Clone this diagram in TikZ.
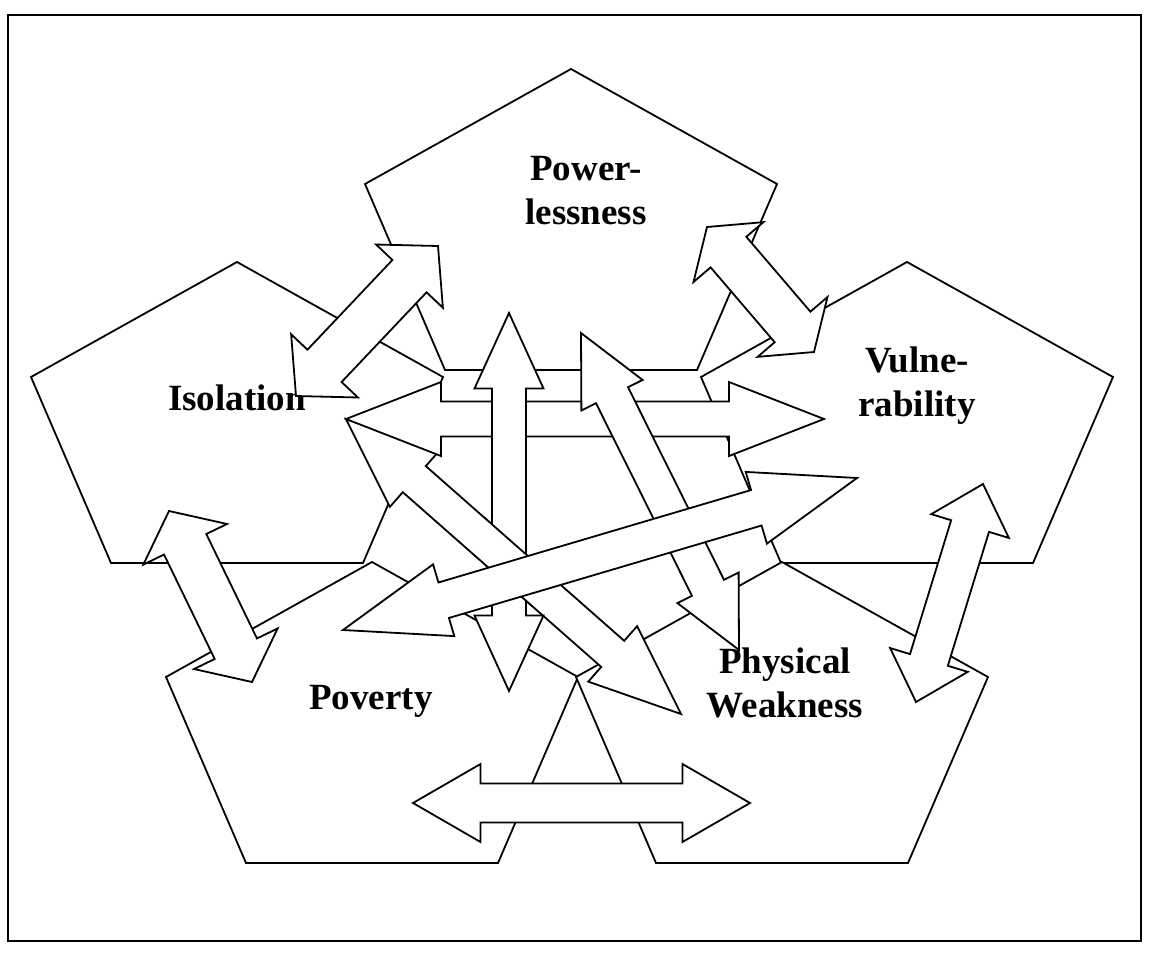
\documentclass[tikz,border=0pt]{standalone}
\usepackage{fontspec}
\setmainfont{Liberation Serif}
\usetikzlibrary{calc}

\newcommand{\pentagon}[1]{%
  \draw[pent] (#1) -- ++(206,115) -- ++(-80,186) -- ++(-252,0) -- ++(-80,-186) -- cycle;}
\newcommand{\dblarrow}[5]{%
  \coordinate (ha) at ($(#1)!#5!(#2)$);
  \coordinate (hb) at ($(#2)!#5!(#1)$);
  \draw[blk] (#1) -- ($(ha)!#4!90:(#2)$) -- ($(ha)!#3!90:(#2)$)
    -- ($(hb)!#3!-90:(#1)$) -- ($(hb)!#4!-90:(#1)$) -- (#2)
    -- ($(hb)!#4!90:(#1)$) -- ($(hb)!#3!90:(#1)$)
    -- ($(ha)!#3!-90:(#2)$) -- ($(ha)!#4!-90:(#2)$) -- cycle;}

\begin{document}
\begin{tikzpicture}[x=1pt, y=-1pt,
    pent/.style={draw, fill=white, line width=1.8pt, line join=miter},
    blk/.style={draw, fill=white, line width=1.8pt, line join=miter},
    lbl/.style={font=\bfseries\fontsize{37}{44}\selectfont, align=center, anchor=base, inner sep=0pt}]
    \useasboundingbox (0,0) rectangle (1149,956);
    \draw[line width=2.6pt] (8,15) rectangle (1141,941);

    \coordinate (powtop) at (571,69);
    \coordinate (isotop) at (237,262);
    \coordinate (vultop) at (907,262);
    \coordinate (povtop) at (372,562);
    \coordinate (phytop) at (782,562);
    \pentagon{powtop}
    \pentagon{isotop}
    \pentagon{vultop}
    \pentagon{povtop}
    \pentagon{phytop}

    \node[lbl] (pow) at (586,224) {Power-\\lessness};
    \node[lbl] (iso) at (237,410) {Isolation};
    \node[lbl] (vul) at (917,416) {Vulne-\\rability};
    \node[lbl] (pov) at (371,709) {Poverty};
    \node[lbl] (phy) at (785,717) {Physical\\Weakness};

    \coordinate (iso1) at (296,396);
    \coordinate (pow1) at (438,246);
    \coordinate (pow2) at (707,227);
    \coordinate (vul1) at (814,352);
    \coordinate (iso2) at (346,419);
    \coordinate (vul2) at (824,419);
    \coordinate (pow3) at (509,313);
    \coordinate (pov1) at (509,691);
    \coordinate (pow4) at (581,333);
    \coordinate (phy1) at (739,650);
    \coordinate (iso3) at (346,419);
    \coordinate (phy2) at (681,714);
    \coordinate (pov2) at (343,630);
    \coordinate (vul3) at (857,478);
    \coordinate (iso4) at (169,511);
    \coordinate (pov3) at (252,682);
    \coordinate (vul4) at (983,484);
    \coordinate (phy3) at (916,702);
    \coordinate (pov4) at (413,803);
    \coordinate (phy4) at (750,803);

    \dblarrow{iso1}{pow1}{23.5pt}{46pt}{41.5pt}
    \dblarrow{pow2}{vul1}{23.5pt}{46pt}{33pt}
    \dblarrow{iso4}{pov3}{23.5pt}{46.5pt}{37pt}
    \dblarrow{vul4}{phy3}{19.8pt}{40.6pt}{44pt}
    \dblarrow{pov4}{phy4}{19.5pt}{39pt}{67.5pt}
    \dblarrow{iso3}{phy2}{17.4pt}{37pt}{91pt}
    \dblarrow{iso2}{vul2}{17.5pt}{37pt}{95pt}
    \dblarrow{pow3}{pov1}{17pt}{34.5pt}{75.5pt}
    \begin{scope}
        \clip (485,500) rectangle (532,620);
        \dblarrow{iso3}{phy2}{17.4pt}{37pt}{91pt}
    \end{scope}
    \dblarrow{pow4}{phy1}{17.9pt}{34.2pt}{69.5pt}
    \dblarrow{pov2}{vul3}{18.5pt}{37.4pt}{105pt}
\end{tikzpicture}
\end{document}
